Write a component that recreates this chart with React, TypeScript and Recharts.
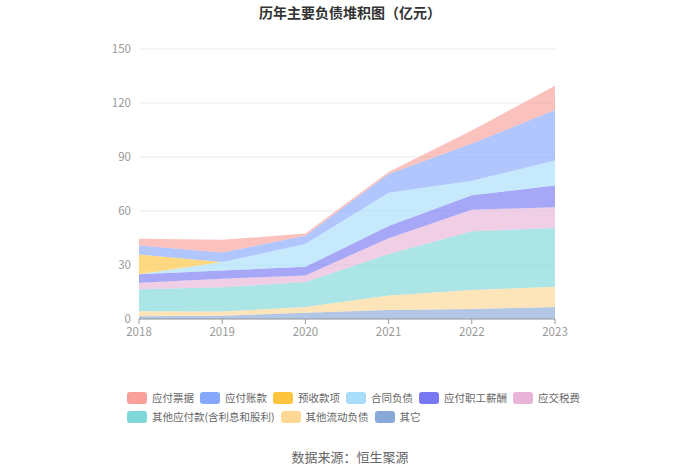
import React from "react";
import { AreaChart, Area, XAxis, YAxis, CartesianGrid } from "recharts";

const years = ["2018", "2019", "2020", "2021", "2022", "2023"];
const qita = [1.5, 1.8, 3.5, 5.0, 5.5, 6.7];
const qitaLiudong = [2.8, 2.3, 3.2, 8.1, 10.6, 11.2];
const qitaYingfu = [12.2, 13.5, 13.8, 23.0, 32.7, 32.6];
const yingjiaoShui = [3.7, 4.8, 3.7, 8.8, 11.9, 11.6];
const zhigongXinchou = [4.6, 4.6, 4.8, 6.7, 8.1, 12.1];
const hetongFuzhai = [0, 4.6, 12.6, 18.5, 8.0, 13.8];
const yushouKuan = [11.1, 0, 0, 0, 0, 0];
const yingfuZhang = [5.0, 5.4, 4.6, 10.5, 20.7, 28.1];
const yingfuPiao = [3.7, 7.0, 1.3, 1.0, 7.2, 13.5];
const yTicks = [0, 30, 60, 90, 120, 150];

const series = [
  { key: "qita", name: "其它", values: qita, color: "#88a8d8" },
  { key: "qitaLiudong", name: "其他流动负债", values: qitaLiudong, color: "#fed794" },
  { key: "qitaYingfu", name: "其他应付款(含利息和股利)", values: qitaYingfu, color: "#80d7d8" },
  { key: "yingjiaoShui", name: "应交税费", values: yingjiaoShui, color: "#e8b4d8" },
  { key: "zhigongXinchou", name: "应付职工薪酬", values: zhigongXinchou, color: "#7878f2" },
  { key: "hetongFuzhai", name: "合同负债", values: hetongFuzhai, color: "#a8defa" },
  { key: "yushouKuan", name: "预收款项", values: yushouKuan, color: "#fec43d" },
  { key: "yingfuZhang", name: "应付账款", values: yingfuZhang, color: "#86a8fc" },
  { key: "yingfuPiao", name: "应付票据", values: yingfuPiao, color: "#f8a099" },
];

const legendOrder = [
  "yingfuPiao", "yingfuZhang", "yushouKuan", "hetongFuzhai", "zhigongXinchou",
  "yingjiaoShui", "qitaYingfu", "qitaLiudong", "qita",
];

const data = years.map((y, i) => {
  const row: Record<string, any> = { year: y };
  series.forEach((s) => (row[s.key] = s.values[i]));
  return row;
});

const font = '"Noto Sans CJK SC", "Noto Sans", sans-serif';

function LegendItem({ name, color }: { name: string; color: string }) {
  return (
    <div style={{ display: "flex", alignItems: "center", marginRight: 6, height: 19 }}>
      <div style={{ width: 20, height: 12, borderRadius: 3, background: color, marginRight: 5 }} />
      <span style={{ fontSize: 10.5, color: "#666", whiteSpace: "nowrap" }}>{name}</span>
    </div>
  );
}

export default function App() {
  const items = legendOrder.map((k) => series.find((s) => s.key === k)!);
  return (
    <div style={{ position: "absolute", left: 0, top: 0, width: 700, height: 473, fontFamily: font, background: "#fff" }}>
      <style>{`body{margin:0}`}</style>
      <div style={{ position: "absolute", top: 2, width: 700, textAlign: "center", fontSize: 14, fontWeight: "bold", color: "#333" }}>
        历年主要负债堆积图（亿元）
      </div>
      <AreaChart width={700} height={473} data={data} margin={{ top: 49, right: 145, left: 0, bottom: 124 }}>
        <CartesianGrid vertical={false} stroke="#e8ecf5" />
        <XAxis
          dataKey="year"
          height={30}
          stroke="#999"
          tick={{ fill: "#999", fontSize: 11.5, fontFamily: font }}
          tickSize={5}
          tickMargin={4}
          padding={{ left: 0, right: 0 }}
        />
        <YAxis
          width={139}
          domain={[0, 150]}
          ticks={yTicks}
          axisLine={false}
          tickLine={false}
          tickSize={0}
          tickMargin={8}
          tick={{ fill: "#999", fontSize: 11.5, fontFamily: font }}
        />
        {series.map((s) => (
          <Area
            key={s.key}
            type="linear"
            dataKey={s.key}
            name={s.name}
            stackId="a"
            stroke="none"
            fill={s.color}
            fillOpacity={0.65}
            isAnimationActive={false}
            dot={false}
            activeDot={false}
          />
        ))}
      </AreaChart>
      <div style={{ position: "absolute", left: 127, top: 388, width: 480, display: "flex", flexWrap: "wrap" }}>
        {items.map((s) => (
          <LegendItem key={s.key} name={s.name} color={s.color} />
        ))}
      </div>
      <div style={{ position: "absolute", top: 447, width: 700, textAlign: "center", fontSize: 13, color: "#666" }}>
        数据来源：恒生聚源
      </div>
    </div>
  );
}
